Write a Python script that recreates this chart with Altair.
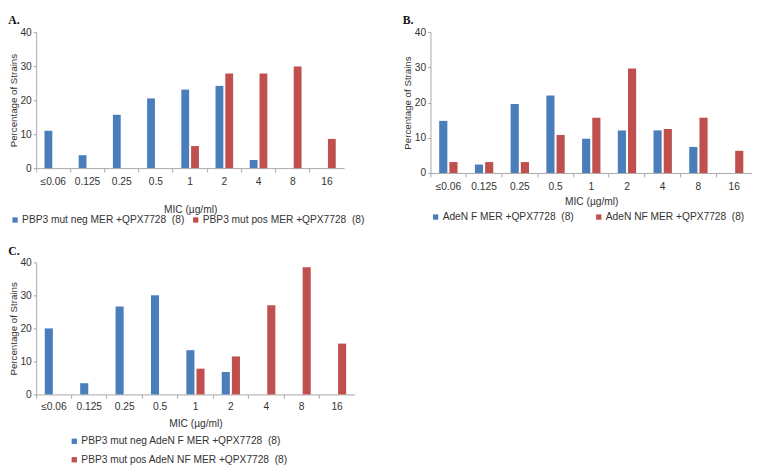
import altair as alt
import pandas as pd

mic = ["≤0.06", "0.125", "0.25", "0.5", "1", "2", "4", "8", "16"]

a_names = ["PBP3 mut neg MER +QPX7728\u00a0\u00a0(8)", "PBP3 mut pos MER +QPX7728\u00a0\u00a0(8)"]
a_neg = [11.0, 3.8, 15.7, 20.5, 23.1, 24.2, 2.4, None, None]
a_pos = [None, None, None, None, 6.5, 27.8, 27.8, 29.9, 8.6]

b_names = ["AdeN F MER +QPX7728\u00a0\u00a0(8)", "AdeN NF MER +QPX7728\u00a0\u00a0(8)"]
b_f = [14.8, 2.4, 19.6, 22.0, 9.7, 12.1, 12.1, 7.4, None]
b_nf = [3.1, 3.1, 3.1, 10.8, 15.7, 29.7, 12.5, 15.7, 6.3]

c_names = ["PBP3 mut neg AdeN F MER +QPX7728\u00a0\u00a0(8)", "PBP3 mut pos AdeN NF MER +QPX7728\u00a0\u00a0(8)"]
c_neg = [20.0, 3.4, 26.6, 30.0, 13.4, 6.8, None, None, None]
c_pos = [None, None, None, None, 7.8, 11.5, 27.0, 38.5, 15.4]

BLUE = "#4A7EBB"
RED = "#C0504D"
GRAY = "#a6a6a6"
TXT = "#333333"
FONT = "Liberation Sans"
FS = 10.5


def panel(label, s1, s2, names, w, h, legend, label_pad, title_pad):
    rows = []
    for m, v1, v2 in zip(mic, s1, s2):
        if v1 is not None:
            rows.append({"mic": m, "series": names[0], "value": v1})
        if v2 is not None:
            rows.append({"mic": m, "series": names[1], "value": v2})
    df = pd.DataFrame(rows)
    return (
        alt.Chart(
            df,
            title=alt.Title(label, anchor="start", frame="bounds", font="Liberation Serif",
                            fontSize=12, fontWeight="bold", color="#111111", offset=0),
        )
        .mark_bar()
        .encode(
            x=alt.X("mic:N", sort=mic,
                    scale=alt.Scale(domain=mic, paddingInner=0, paddingOuter=0),
                    axis=alt.Axis(title="MIC (µg/ml)", labelAngle=0, bandPosition=0,
                                  tickSize=4, labelPadding=label_pad, titlePadding=title_pad,
                                  domainColor=GRAY, tickColor=GRAY,
                                  labelFont=FONT, titleFont=FONT, labelFontSize=FS,
                                  titleFontSize=FS, titleFontWeight="normal",
                                  labelColor=TXT, titleColor=TXT)),
            xOffset=alt.XOffset("series:N",
                                scale=alt.Scale(domain=names, paddingInner=0.2, paddingOuter=0.85)),
            y=alt.Y("value:Q", scale=alt.Scale(domain=[0, 40]),
                    axis=alt.Axis(title="Percentage of Strains", values=[0, 10, 20, 30, 40],
                                  grid=False, tickSize=3, labelPadding=2, titlePadding=2,
                                  domainColor=GRAY, tickColor=GRAY,
                                  labelFont=FONT, titleFont=FONT, labelFontSize=FS,
                                  titleFontSize=10, titleFontWeight="normal",
                                  labelColor=TXT, titleColor=TXT)),
            color=alt.Color("series:N", scale=alt.Scale(domain=names, range=[BLUE, RED]),
                            legend=legend),
        )
        .properties(width=w, height=h)
    )


def leg(x, y, direction, colpad=8, rowpad=8):
    return alt.Legend(title=None, orient="none", legendX=x, legendY=y, direction=direction,
                      symbolType="square", symbolSize=30, symbolStrokeWidth=0,
                      labelFont=FONT, labelFontSize=FS, labelColor=TXT, labelOffset=2,
                      columnPadding=colpad, rowPadding=rowpad, labelLimit=400,
                      columns=(1 if direction == "vertical" else 2))


A = panel("A.", a_neg, a_pos, a_names, 317, 140, leg(-27, 188, "horizontal", 6), 5, 18)
B = panel("B.", b_f, b_nf, b_names, 331, 145, leg(0, 185, "horizontal", 20), 5, 5)
C = panel("C.", c_neg, c_pos, c_names, 328, 136, leg(34, 179, "vertical", 8, 8), 4, 7)

top = alt.hconcat(A, B, spacing=38).resolve_scale(color="independent", xOffset="independent")
chart = (
    alt.vconcat(top, C, spacing=20)
    .resolve_scale(color="independent", xOffset="independent")
    .properties(padding=0)
    .configure_view(stroke=None)
)

chart.save("out.html", embed_options={"renderer": "svg", "actions": False})
